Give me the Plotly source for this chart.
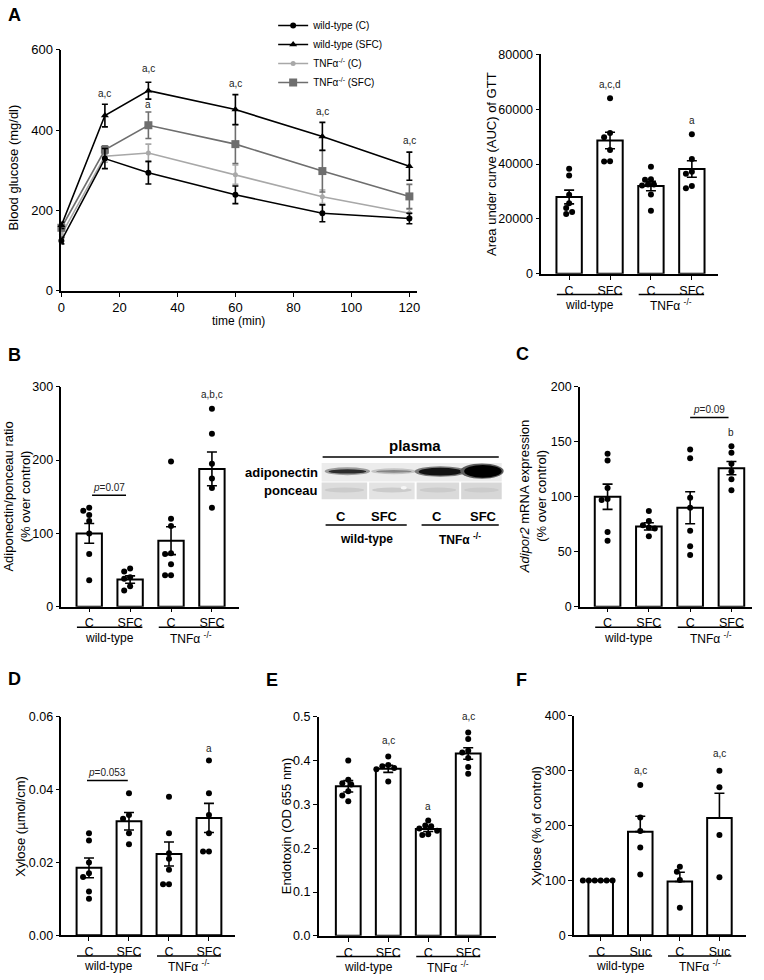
import plotly.graph_objects as go

W, H = 764, 980
def fx(p): return p / W
def fy(p): return 1 - p / H

FONT = "Liberation Sans, Arial, sans-serif"

# ---------------- Panel A: glucose tolerance test ----------------
time_min = [0, 15, 30, 60, 90, 120]
wt_c = [125, 329, 294, 239, 193, 180]
wt_c_sem = [8, 25, 28, 22, 21, 13]
wt_sfc = [163, 436, 498, 451, 384, 310]
wt_sfc_sem = [8, 28, 21, 37, 35, 35]
tnf_c = [140, 335, 343, 289, 234, 193]
tnf_c_sem = [8, 15, 22, 24, 17, 10]
tnf_sfc = [157, 351, 412, 365, 298, 235]
tnf_sfc_sem = [8, 10, 33, 48, 52, 30]
series_names = ["wild-type (C)", "wild-type (SFC)", "TNFα<sup>-/-</sup> (C)", "TNFα<sup>-/-</sup> (SFC)"]
gtt_letters = [("a,c", 15, 492), ("a,c", 30, 553), ("a", 30, 463),
               ("a,c", 60, 517), ("a,c", 90, 447), ("a,c", 120, 375)]

# ---------------- Bar panels ----------------
cat_sfc = ["C", "SFC", "C", "SFC"]
cat_suc = ["C", "Suc", "C", "Suc"]
genotypes = ["wild-type", "TNFα <sup>-/-</sup>"]

auc_mean = [28000, 48600, 32000, 38200]
auc_sem = [2500, 3000, 1700, 3000]
auc_pts = [[38300, 35800, 28800, 25700, 24000, 22500, 21800],
           [64000, 51300, 49800, 45100, 40900, 41000],
           [39000, 34500, 34300, 32600, 32600, 32200, 28900, 23000],
           [50900, 41800, 37200, 36500, 32000, 31200]]

adipo_mean = [100, 37, 90, 188]
adipo_sem = [13.5, 5, 19, 23]
adipo_pts = [[135, 131, 125, 117, 100, 72, 36],
             [52, 48, 40, 38, 28, 22],
             [198, 120, 110, 73, 72, 58, 43, 43],
             [270, 236, 195, 175, 162, 135]]

adipor2_mean = [100, 73, 90, 126]
adipor2_sem = [11.5, 3.3, 14.5, 6]
adipor2_pts = [[139, 133, 108, 98, 97, 68, 60],
               [87, 78, 74, 72, 71, 64],
               [143, 135, 99, 90, 69, 55, 47],
               [146, 140, 130, 123, 116, 106]]

xyl_mean = [0.0185, 0.0313, 0.0223, 0.0322]
xyl_sem = [0.0027, 0.0024, 0.0033, 0.004]
xyl_pts = [[0.028, 0.026, 0.020, 0.017, 0.016, 0.012, 0.010],
           [0.039, 0.033, 0.032, 0.028, 0.025],
           [0.038, 0.028, 0.0225, 0.021, 0.018, 0.014, 0.014],
           [0.048, 0.039, 0.033, 0.028, 0.023, 0.023]]

endo_mean = [0.341, 0.381, 0.244, 0.416]
endo_sem = [0.013, 0.008, 0.006, 0.013]
endo_pts = [[0.400, 0.356, 0.348, 0.345, 0.330, 0.320, 0.307],
            [0.409, 0.390, 0.387, 0.383, 0.380, 0.352],
            [0.263, 0.252, 0.250, 0.245, 0.240, 0.232, 0.230],
            [0.464, 0.449, 0.422, 0.418, 0.406, 0.385, 0.370]]

xylpct_mean = [100, 189, 98, 214]
xylpct_sem = [0, 28, 17, 45]
xylpct_pts = [[100, 100, 100, 100, 100, 100],
              [274, 215, 190, 160, 111],
              [125, 116, 101, 50],
              [300, 270, 183, 106]]

fig = go.Figure()

# ---- line chart ----
line_styles = [
    (wt_c, wt_c_sem, "black", "circle", 6),
    (wt_sfc, wt_sfc_sem, "black", "triangle-up", 7),
    (tnf_c, tnf_c_sem, "#a8a8a8", "circle", 5),
    (tnf_sfc, tnf_sfc_sem, "#6e6e6e", "square", 8),
]
draw_order = [2, 3, 0, 1]
for i in draw_order:
    vals, sem, col, sym, sz = line_styles[i]
    fig.add_trace(go.Scatter(
        x=time_min, y=vals, name=series_names[i], legendrank=i + 1,
        mode="lines+markers", cliponaxis=False,
        line=dict(color=col, width=1.6),
        marker=dict(color=col, symbol=sym, size=sz),
        error_y=dict(type="data", array=sem, color=col, thickness=1.6, width=3),
        xaxis="x", yaxis="y"))

axis_common = dict(showline=True, linecolor="black", linewidth=1.5, ticks="outside",
                   ticklen=4, tickwidth=1.3, tickcolor="black", showgrid=False,
                   zeroline=False, tickfont=dict(family=FONT, size=13, color="black"),
                   fixedrange=True)

layout = dict(
    width=W, height=H, margin=dict(l=0, r=0, t=0, b=0),
    paper_bgcolor="white", plot_bgcolor="white",
    font=dict(family=FONT, size=12, color="black"),
    showlegend=True,
    legend=dict(x=fx(272), y=fy(4), xanchor="left", yanchor="top",
                font=dict(family=FONT, size=10, color="black"),
                bgcolor="rgba(0,0,0,0)", itemwidth=30, tracegroupgap=2),
)
layout["xaxis"] = dict(axis_common, domain=[fx(58), fx(417)], range=[0, 122.5],
                       tickvals=[0, 20, 40, 60, 80, 100, 120], anchor="y")
layout["yaxis"] = dict(axis_common, domain=[fy(288.3), fy(43.3)], range=[0, 600],
                       tickvals=[0, 200, 400, 600], anchor="x")

annotations = []
shapes = []

for txt, t, v in gtt_letters:
    annotations.append(dict(x=t, y=v, xref="x", yref="y", text=txt, showarrow=False,
                            font=dict(size=10, color="#222")))
annotations.append(dict(x=fx(237), y=fy(319), xref="paper", yref="paper", text="time (min)",
                        xanchor="center", yanchor="middle", showarrow=False, font=dict(size=12)))
annotations.append(dict(x=fx(10), y=fy(163), xref="paper", yref="paper", text="Blood glucose (mg/dl)",
                        xanchor="center", yanchor="middle",
                        textangle=-90, showarrow=False, font=dict(size=13)))


def swarm(values, ypx, xpx, diam=6.0):
    placed = []
    offs = [0.0] * len(values)
    order = sorted(range(len(values)), key=lambda i: -values[i])
    step = diam * 0.5 / xpx
    cand = [0]
    for j in range(1, 14):
        cand += [-j, j]
    for i in order:
        dx = 0.0
        for c in cand:
            dx = c * step
            ok = all(((dx - ox) * xpx) ** 2 + ((values[i] - ov) * ypx) ** 2 >= (diam * 0.9) ** 2
                     for ox, ov in placed)
            if ok:
                break
        offs[i] = dx
        placed.append((dx, values[i]))
    return offs


panels = [
    dict(k=2, dom=(543, 722, 48, 271), xr=(-0.68, 3.65), yr=(0, 80000), dtick=20000, fmt="d",
         cats=cat_sfc, means=auc_mean, sem=auc_sem, pts=auc_pts, upper_only=False,
         title="Area under curve (AUC) of GTT", tx=492,
         letters=[(1, 69000, "a,c,d"), (3, 56000, "a")], pline=None),
    dict(k=3, dom=(58, 237, 385.7, 609), xr=(-0.68, 3.65), yr=(0, 300), dtick=100, fmt="d",
         cats=cat_sfc, means=adipo_mean, sem=adipo_sem, pts=adipo_pts, upper_only=False,
         title="Adiponectin/ponceau ratio<br>(% over control)", tx=13,
         letters=[(3, 289, "a,b,c")], pline=(0.07, 0.9, 152, "<i>p</i>=0.07")),
    dict(k=4, dom=(582, 756, 385.7, 609), xr=(-0.67, 3.5), yr=(0, 200), dtick=50, fmt="d",
         cats=cat_sfc, means=adipor2_mean, sem=adipor2_sem, pts=adipor2_pts, upper_only=False,
         title="<i>Adipor2</i> mRNA expression<br>(% over control)", tx=534,
         letters=[(3, 158, "b")], pline=(2.0, 2.93, 172, "<i>p</i>=0.09")),
    dict(k=5, dom=(58, 233, 720.7, 942.7), xr=(-0.69, 3.64), yr=(0, 0.06), dtick=0.02, fmt=".2f",
         cats=cat_sfc, means=xyl_mean, sem=xyl_sem, pts=xyl_pts, upper_only=False,
         title="Xylose (µmol/cm)", tx=17,
         letters=[(3, 0.0512, "a")], pline=(-0.05, 0.97, 0.0425, "<i>p</i>=0.053")),
    dict(k=6, dom=(318, 497, 720.7, 943.3), xr=(-0.74, 3.69), yr=(0, 0.5), dtick=0.1, fmt=".1f",
         cats=cat_sfc, means=endo_mean, sem=endo_sem, pts=endo_pts, upper_only=False,
         title="Endotoxin (OD 655 nm)", tx=285,
         letters=[(1, 0.445, "a,c"), (2, 0.296, "a"), (3, 0.5, "a,c")], pline=None),
    dict(k=7, dom=(576, 750, 720, 942.7), xr=(-0.675, 3.675), yr=(0, 400), dtick=100, fmt="d",
         cats=cat_suc, means=xylpct_mean, sem=xylpct_sem, pts=xylpct_pts, upper_only=True,
         title="Xylose (% of control)", tx=538,
         letters=[(1, 301, "a,c"), (3, 331, "a,c")], pline=None),
]

for p in panels:
    k = p["k"]
    x0, x1, yt, yb = p["dom"]
    xs, ys = f"x{k}", f"y{k}"
    xpx = (x1 - x0) / (p["xr"][1] - p["xr"][0])
    ypx = (yb - yt) / (p["yr"][1] - p["yr"][0])
    layout[f"xaxis{k}"] = dict(axis_common, domain=[fx(x0), fx(x1)], range=list(p["xr"]),
                               tickvals=[0, 1, 2, 3], ticktext=p["cats"], anchor=ys,
                               tickfont=dict(family=FONT, size=12.5, color="black"))
    layout[f"yaxis{k}"] = dict(axis_common, domain=[fy(yb), fy(yt)], range=list(p["yr"]),
                               dtick=p["dtick"], tick0=0, tickformat=p["fmt"], anchor=xs,
                               tickfont=dict(family=FONT, size=12.5, color="black"))
    err = dict(type="data", array=p["sem"], color="black", thickness=1.6, width=5, visible=True)
    if p["upper_only"]:
        err.update(symmetric=False, arrayminus=[0] * 4)
    fig.add_trace(go.Bar(x=[0, 1, 2, 3], y=p["means"], width=0.62,
                         marker=dict(color="white", line=dict(color="black", width=2)),
                         error_y=err, showlegend=False, xaxis=xs, yaxis=ys))
    px_all, py_all = [], []
    for i, vals in enumerate(p["pts"]):
        offs = swarm(vals, ypx, xpx)
        px_all += [i + o for o in offs]
        py_all += vals
    fig.add_trace(go.Scatter(x=px_all, y=py_all, mode="markers", cliponaxis=False,
                             marker=dict(color="black", size=6), showlegend=False,
                             xaxis=xs, yaxis=ys))
    for gi, g in enumerate(genotypes):
        shapes.append(dict(type="line", xref=xs, yref="paper", x0=2 * gi - 0.3, x1=2 * gi + 1.3,
                           y0=fy(yb + 21), y1=fy(yb + 21), line=dict(color="black", width=1.5)))
        annotations.append(dict(x=2 * gi + 0.5, y=fy(yb + 31.5), xref=xs, yref="paper", text=g,
                                xanchor="center", yanchor="middle",
                                showarrow=False, font=dict(size=12)))
    annotations.append(dict(x=fx(p["tx"]), y=fy((yt + yb) / 2), xref="paper", yref="paper",
                            xanchor="center", yanchor="middle",
                            text=p["title"], textangle=-90, showarrow=False, font=dict(size=13)))
    for bi, v, txt in p["letters"]:
        annotations.append(dict(x=bi, y=v, xref=xs, yref=ys, text=txt, showarrow=False,
                                font=dict(size=10, color="#222")))
    if p["pline"]:
        a, b, v, txt = p["pline"]
        shapes.append(dict(type="line", xref=xs, yref=ys, x0=a, x1=b, y0=v, y1=v,
                           line=dict(color="black", width=1.5)))
        annotations.append(dict(x=(a + b) / 2, y=v, xref=xs, yref=ys, text=txt, showarrow=False,
                                yshift=8, font=dict(size=10, color="#222")))

# ---- panel letters ----
for letter, lx, ly in [("A", 2, 8), ("B", 2, 353), ("C", 515, 352),
                       ("D", 2, 682), ("E", 263, 683), ("F", 515, 683)]:
    annotations.append(dict(x=fx(lx), y=fy(ly), xref="paper", yref="paper", text=f"<b>{letter}</b>",
                            xanchor="left", yanchor="middle", showarrow=False,
                            font=dict(size=18, family=FONT)))

# ---- western blot (image-like drawing) ----
def pshape(kind, x0, y0, x1, y1, fill):
    return dict(type=kind, xref="paper", yref="paper", x0=fx(x0), x1=fx(x1), y0=fy(y1), y1=fy(y0),
                fillcolor=fill, line=dict(width=0), layer="above")

shapes.append(dict(type="line", xref="paper", yref="paper", x0=fx(322), x1=fx(500), y0=fy(457), y1=fy(457),
                   line=dict(color="black", width=1.5)))
shapes.append(pshape("rect", 321, 463, 503, 482, "#ececec"))
for lx0, lx1, col in [(321, 367, "#dcdcdc"), (369, 415, "#e3e3e3"), (417, 460, "#dadada"), (462, 503, "#d7d7d7")]:
    shapes.append(pshape("rect", lx0, 483, lx1, 500, col))
    shapes.append(pshape("circle", lx0 + 3, 488, lx1 - 3, 493, "#cbcbcb"))
shapes.append(pshape("circle", 401, 486.5, 407, 490, "#f6f6f6"))
bands = [((324, 467.5, 370, 475.5), "#9c9c9c", (328, 469.5, 366, 473.8), "#2b2b2b"),
         ((371, 468.5, 417, 474.5), "#c4c4c4", (376, 470.2, 412, 473.0), "#868686"),
         ((415, 466.5, 467, 477.0), "#7a7a7a", (419, 468.0, 463, 475.8), "#121212"),
         ((461, 463.5, 505, 479.0), "#5e5e5e", (465, 465.0, 503, 478.0), "#000000")]
for halo, hc, core, cc in bands:
    shapes.append(pshape("circle", *halo, hc))
    shapes.append(pshape("circle", *core, cc))
for gx0, gx1 in [(325, 407), (422, 500)]:
    shapes.append(dict(type="line", xref="paper", yref="paper", x0=fx(gx0), x1=fx(gx1), y0=fy(526), y1=fy(526),
                       line=dict(color="black", width=1.5)))

blot_text = [("plasma", 415, 445, 15, "center"), ("adiponectin", 319, 472.5, 13, "right"),
             ("ponceau", 319, 491, 13, "right"), ("C", 341, 517, 13, "center"),
             ("SFC", 385, 517, 13, "center"), ("C", 438, 517, 13, "center"),
             ("SFC", 485, 517, 13, "center"), ("wild-type", 366, 540, 12, "center"),
             ("TNFα <sup>-/-</sup>", 461, 540, 12, "center")]
for txt, tx, ty, sz, anc in blot_text:
    annotations.append(dict(x=fx(tx), y=fy(ty), xref="paper", yref="paper", text=f"<b>{txt}</b>",
                            xanchor=anc, yanchor="middle", showarrow=False, font=dict(size=sz)))

layout["annotations"] = annotations
layout["shapes"] = shapes
fig.update_layout(**layout)
fig.write_html("out.html", config={"displayModeBar": False},
               post_script="document.body.style.margin='0';document.body.style.overflow='hidden';")
